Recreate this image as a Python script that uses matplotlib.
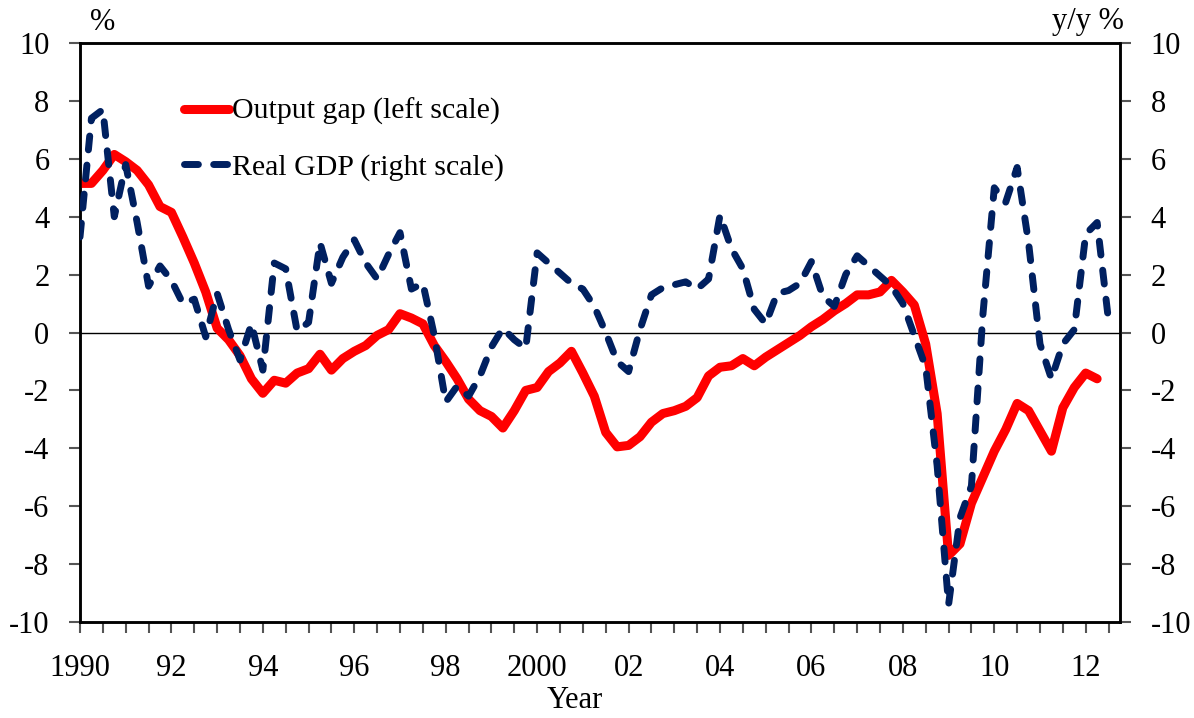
import matplotlib.pyplot as plt
import numpy as np

plt.rcParams['font.family'] = ['Liberation Serif', 'DejaVu Serif']
plt.rcParams['axes.unicode_minus'] = False

# Quarterly data, 1990Q1 onwards
output_gap = [5.15, 5.15, 5.6, 6.15, 5.9, 5.6, 5.1, 4.35, 4.15, 3.3,
              2.4, 1.4, 0.15, -0.25, -0.8, -1.6, -2.1, -1.65, -1.75, -1.4,
              -1.25, -0.75, -1.3, -0.9, -0.65, -0.45, -0.1, 0.1, 0.65, 0.5,
              0.3, -0.45, -1.0, -1.6, -2.3, -2.7, -2.9, -3.3, -2.7, -2.0,
              -1.9, -1.35, -1.05, -0.65, -1.4, -2.2, -3.45, -3.95, -3.9, -3.6,
              -3.1, -2.8, -2.7, -2.55, -2.25, -1.5, -1.2, -1.15, -0.9, -1.15,
              -0.85, -0.6, -0.35, -0.1, 0.2, 0.45, 0.75, 1.0, 1.3, 1.3,
              1.4, 1.8, 1.4, 0.95, -0.4, -2.8, -7.7, -7.3, -5.9, -5.0,
              -4.1, -3.35, -2.45, -2.7, -3.4, -4.1, -2.6, -1.9, -1.4, -1.6]

real_gdp = [3.3, 7.4, 7.7, 4.0, 5.8, 3.8, 1.6, 2.3, 1.8, 1.0,
            1.15, -0.15, 1.35, 0.1, -0.95, 0.3, -1.3, 2.4, 2.2, 0.05,
            0.35, 3.1, 1.7, 2.6, 3.2, 2.4, 1.85, 2.7, 3.45, 1.5,
            1.7, -0.1, -2.4, -1.85, -2.2, -1.5, -0.5, 0.15, -0.25, -0.55,
            2.75, 2.4, 2.05, 1.7, 1.5, 0.9, 0.0, -1.0, -1.35, 0.1,
            1.3, 1.55, 1.65, 1.75, 1.5, 1.85, 4.05, 2.9, 2.2, 0.8,
            0.3, 1.35, 1.45, 1.7, 2.45, 1.25, 0.9, 2.0, 2.65, 2.3,
            1.95, 1.6, 1.0, -0.1, -1.2, -4.6, -9.4, -6.4, -5.3, 0.6,
            5.0, 4.5, 5.7, 3.1, -0.4, -1.6, -0.4, 0.1, 3.4, 3.8,
            0.4]

year_ticks = np.arange(1990, 2013, 2)
year_labels = ['1990', '92', '94', '96', '98', '2000', '02', '04', '06', '08', '10', '12']

t_gap = 1990 + np.arange(len(output_gap)) / 4
t_gdp = 1990 + np.arange(len(real_gdp)) / 4

FS = 22

fig = plt.figure(figsize=(11.94, 7.18), dpi=100)
ax = fig.add_axes([80 / 1194, 96 / 718, 1040 / 1194, 579 / 718])
ax2 = ax.twinx()

ax.axhline(0, color='black', linewidth=1.0, zorder=1)
ax.plot(t_gap, output_gap, color='#ff0000', linewidth=6.5,
        solid_joinstyle='round', solid_capstyle='round', label='Output gap (left scale)', zorder=3)
ax2.plot(t_gdp, real_gdp, color='#002060', linewidth=5, linestyle=(0, (2.0, 2.2)),
         dash_capstyle='round', label='Real GDP (right scale)', zorder=3)

for a in (ax, ax2):
    a.set_ylim(-10, 10)
    a.set_yticks(np.arange(-10, 11, 2))
    a.set_xlim(1990, 2012.75)
    for s in a.spines.values():
        s.set_linewidth(1.8)
        s.set_color('black')

ax.tick_params(axis='y', direction='out', length=8, width=1.5, color='#555555',
               labelsize=FS, pad=14)
ax2.tick_params(axis='y', direction='out', length=8, width=1.5, color='#555555',
                labelsize=FS, pad=14)

half_years = np.arange(1990, 2012.6, 0.5)
ax.set_xticks(half_years)
ax.set_xticklabels([year_labels[list(year_ticks).index(int(v))] if v % 2 == 0 else ''
                    for v in half_years])
ax.tick_params(axis='x', direction='out', length=8, width=1.5, color='#555555',
               labelsize=FS, pad=15)

# axis titles placed as in the reference
fig.text(575 / 1194, 1 - 701 / 718, 'Year', fontsize=FS, ha='center', va='center')
fig.text(103 / 1194, 1 - 22 / 718, '%', fontsize=FS, ha='center', va='center')
fig.text(1088 / 1194, 1 - 22 / 718, 'y/y %', fontsize=FS, ha='center', va='center')

h1, l1 = ax.get_legend_handles_labels()
h2, l2 = ax2.get_legend_handles_labels()
leg = ax2.legend(h1 + h2, l1 + l2, loc='upper left', bbox_to_anchor=(0.1, 0.905),
                 frameon=False, fontsize=21.5, handlelength=1.5, handletextpad=0.1,
                 labelspacing=0.95, borderpad=0, borderaxespad=0)

fig.savefig('out.png', dpi=100)
